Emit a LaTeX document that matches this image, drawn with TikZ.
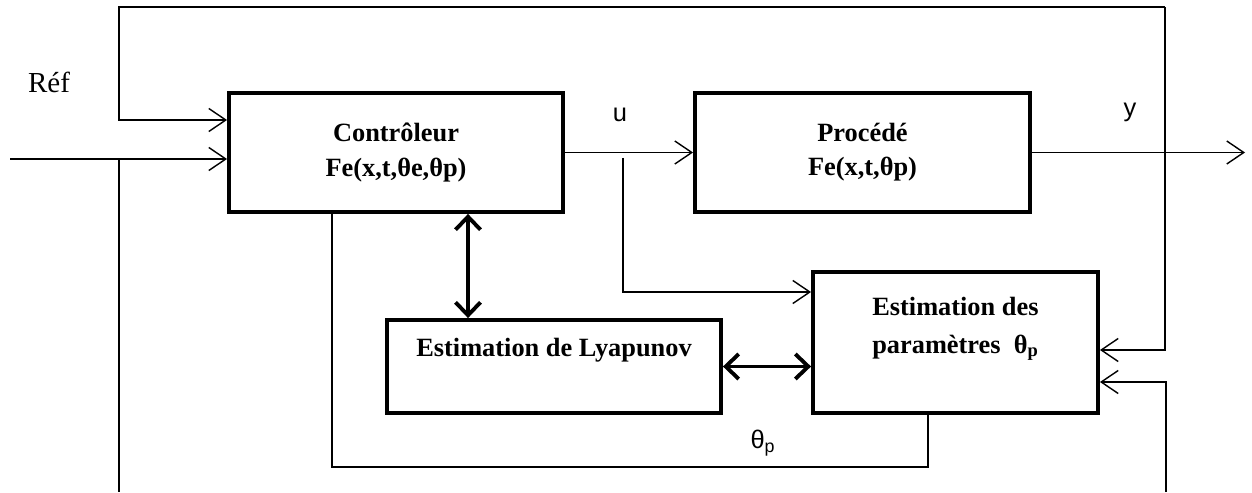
\documentclass[tikz,border=0pt]{standalone}
\usepackage{fontspec}
\setmainfont{Liberation Serif}
\newfontfamily\labelfont{Liberation Sans}
\usetikzlibrary{arrows.meta}

\begin{document}
\begin{tikzpicture}[
    block/.style={
        draw, line width=2.2pt, inner sep=2pt,
        font=\fontsize{15}{19.5}\selectfont\bfseries, align=center
    },
    sig/.style={-{Straight Barb[length=3.4mm,width=4.6mm]}, line width=0.8pt},
    wire/.style={line width=0.8pt},
    dbl/.style={{Straight Barb[length=2.6mm,width=5mm]}-{Straight Barb[length=2.6mm,width=5mm]}, line width=2.2pt},
    tag/.style={font=\labelfont\fontsize{14.5}{17}\selectfont}
]
\useasboundingbox (0,0) rectangle (25.04,9.84);

% Blocks
\node[block, minimum width=6.68cm, minimum height=2.38cm] (ctrl) at (7.92,6.79) {Contrôleur\\Fe(x,t,θe,θp)};
\node[block, minimum width=6.70cm, minimum height=2.38cm] (proc) at (17.25,6.79) {Procédé\\Fe(x,t,θp)};
\node[block, minimum width=6.68cm, minimum height=1.86cm, text depth=0.76cm] (lya) at (11.08,2.51) {Estimation de Lyapunov};
\node[block, minimum width=5.70cm, minimum height=2.82cm, align=left, text depth=0.7cm] (est) at (19.11,2.99) {Estimation des\\[2pt]paramètres~~θ\textsubscript{p}};

% Labels
\node[font=\fontsize{16.5}{19}\selectfont] (ref) at (0.98,8.20) {Réf};
\node[tag] (ulab) at (12.40,7.54) {u};
\node[tag] (ylab) at (22.60,7.60) {y};
\node[tag] (thlab) at (15.26,0.98) {θ\textsubscript{p}};

% Corner points of the wires
\coordinate (topL) at (2.38,9.70);
\coordinate (topR) at (23.30,9.70);
\coordinate (in) at (0.20,6.66);
\coordinate (inTap) at (2.38,6.66);
\coordinate (inBot) at (2.38,0);
\coordinate (uTap) at (12.46,6.68);
\coordinate (out) at (24.90,6.79);
\coordinate (rBot) at (23.32,0);
\coordinate (botL) at (6.64,0.50);

% Forward path
\draw[sig] (in) -- (in -| ctrl.west);
\draw[wire] (inTap) -- (inBot);
\draw[sig] (ctrl) -- (proc);
\draw[sig] (proc) -- (out);
\draw[sig] (uTap) |- ([yshift=1.01cm]est.west);

% Loop over the top
\draw[sig] (topR) |- ([yshift=-0.15cm]est.east);
\draw[sig] (topR) -- (topL) |- ([yshift=0.65cm]ctrl.west);
\draw[sig] (rBot) |- ([yshift=-0.79cm]est.east);

% theta_p back to the controller
\draw[wire] ([xshift=-0.55cm]est.south) |- (botL) -- ([xshift=-1.28cm]ctrl.south);

% Lyapunov links
\draw[dbl] ([xshift=1.44cm]ctrl.south) -- ([xshift=1.44cm]ctrl.south |- lya.north);
\draw[dbl] (lya.east) -- (lya.east -| est.west);

\end{tikzpicture}
\end{document}
